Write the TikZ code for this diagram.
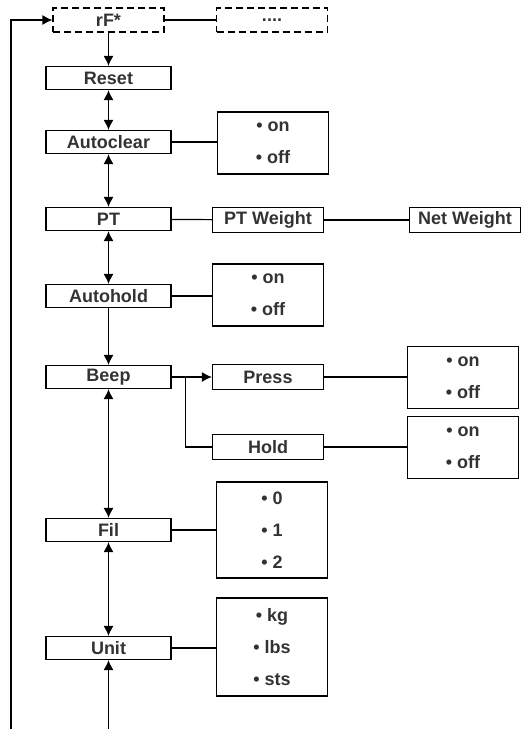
\documentclass[tikz,border=0pt]{standalone}
\usepackage{fontspec}
\setmainfont{Liberation Sans}
\usepackage{xcolor}
\usetikzlibrary{arrows.meta,calc}
\tikzset{>={Latex[length=5pt,width=5pt]}}

\begin{document}
\begin{tikzpicture}[x=0.5pt, y=-0.5pt, line width=0.6pt,
    item/.style={draw, inner sep=0pt, minimum width=62.5pt, minimum height=11.5pt,
      text=black!80, font=\bfseries\fontsize{9}{16}\selectfont},
    sub/.style={item, minimum width=55.5pt, minimum height=12.5pt},
    opts/.style={sub, align=center, minimum height=31pt},
    ghost/.style={sub, dash pattern=on 3.5pt off 2pt, minimum height=12pt}]
  \useasboundingbox (0,0) rectangle (530,729);
  % menu column
  \node[ghost] (rf) at (108.5,20) {rF*};
  \node[ghost] (more) at (272,20) {....};
  \node[item] (reset) at (108.5,78) {Reset};
  \node[item] (autoclear) at (108.5,142) {Autoclear};
  \node[item] (pt) at (108.5,219) {PT};
  \node[item] (autohold) at (108.5,296) {Autohold};
  \node[item] (beep) at (108.5,377) {Beep};
  \node[item] (fil) at (108.5,530) {Fil};
  \node[item] (unit) at (108.5,648) {Unit};
  % settings
  \node[opts] (acopt) at (273,143) {• on\\• off};
  \node[sub] (ptw) at (268,220) {PT Weight};
  \node[sub] (net) at (465,220) {Net Weight};
  \node[opts] (ahopt) at (268,295) {• on\\• off};
  \node[sub] (press) at (268,377) {Press};
  \node[sub] (hold) at (268,447) {Hold};
  \node[opts] (pressopt) at (463,377.5) {• on\\• off};
  \node[opts] (holdopt) at (463,447.5) {• on\\• off};
  \node[opts, minimum height=48pt] (filopt) at (272,530) {• 0\\• 1\\• 2};
  \node[opts, minimum height=49pt] (unitopt) at (272,647) {• kg\\• lbs\\• sts};
  \coordinate (loop) at (11,729);
  \coordinate (tail) at (108.5,729);
  \coordinate (split) at ($(beep.east)+(14,0)$);
  % connectors
  \draw[->] (loop) |- (rf);
  \draw (rf) -- (more);
  \draw[->] (rf) -- (reset);
  \draw[<->] (reset) -- (autoclear);
  \draw[<->] (autoclear) -- (pt);
  \draw[<->] (pt) -- (autohold);
  \draw[->] (autohold) -- (beep);
  \draw[<->] (beep) -- (fil);
  \draw[<->] (fil) -- (unit);
  \draw[->] (tail) -- (unit);
  \draw (autoclear.east) -- (autoclear.east -| acopt.west);
  \draw (pt) -- (ptw);
  \draw (ptw) -- (net);
  \draw (autohold.east) -- (autohold.east -| ahopt.west);
  \draw[->] (beep) -- (press);
  \draw (split) |- (hold);
  \draw (press) -- (press -| pressopt.west);
  \draw (hold) -- (hold -| holdopt.west);
  \draw (fil) -- (filopt);
  \draw (unit.east) -- (unit.east -| unitopt.west);
\end{tikzpicture}
\end{document}
